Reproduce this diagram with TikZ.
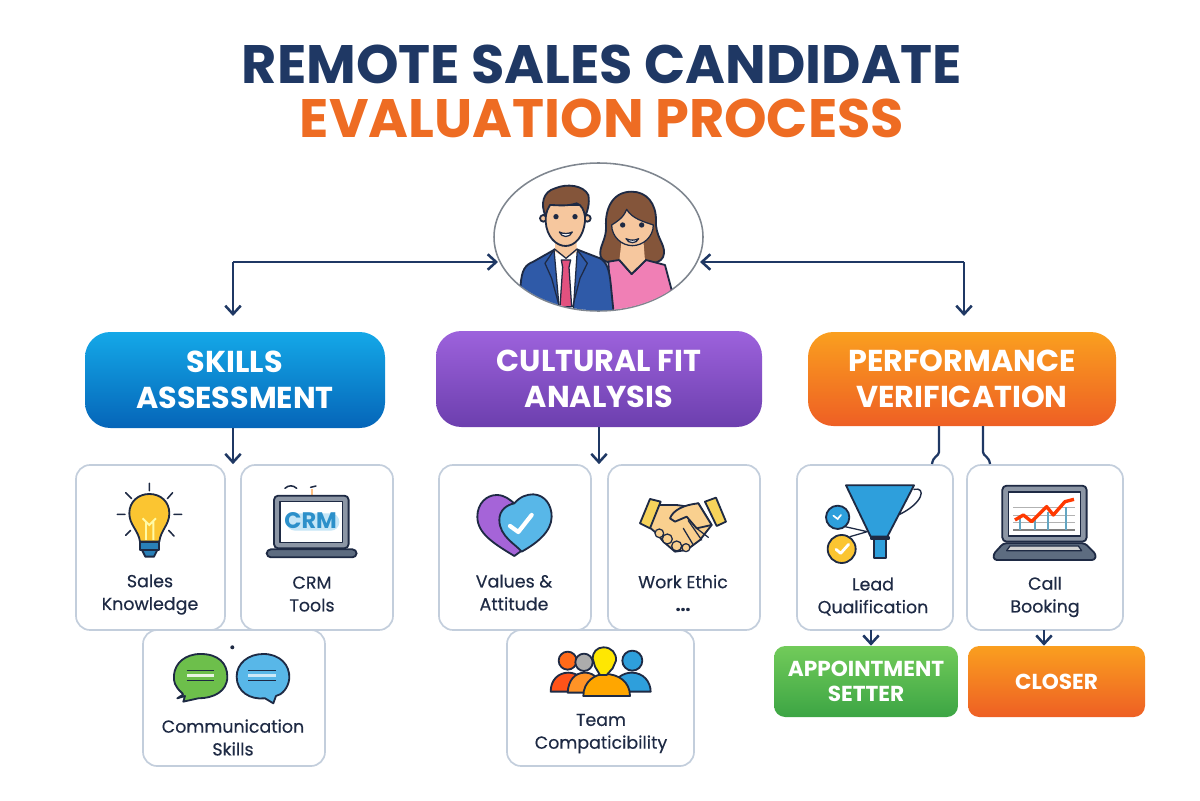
\documentclass[tikz,border=0pt]{standalone}
\usepackage{fontspec}
\setmainfont{Poppins}
\newfontfamily\labelfont{Poppins}[FakeBold=0.35]
\usepackage{xcolor}
\usetikzlibrary{calc, positioning, arrows.meta, shapes.geometric}

\definecolor{navy}{HTML}{1F3864}
\definecolor{inkdark}{HTML}{1E2A44}
\definecolor{titleorange}{HTML}{EE6C23}
\definecolor{cardline}{HTML}{C3CEDC}
\definecolor{skin}{HTML}{F6C79E}
\definecolor{hairbrown}{HTML}{84553A}
\definecolor{skillstop}{HTML}{14A8E8}
\definecolor{skillsbot}{HTML}{0565B8}
\definecolor{culturetop}{HTML}{9D62DC}
\definecolor{culturebot}{HTML}{6C3FAE}
\definecolor{perftop}{HTML}{FA9F1F}
\definecolor{perfbot}{HTML}{EE5F24}
\definecolor{settertop}{HTML}{72CB5A}
\definecolor{setterbot}{HTML}{3CA544}
\definecolor{suitblue}{HTML}{2F5AA8}
\definecolor{pinktop}{HTML}{F07FB5}
\definecolor{tiepink}{HTML}{E2517F}
\definecolor{iconblue}{HTML}{58B7E8}
\definecolor{funnelblue}{HTML}{2E9FDC}
\definecolor{icongreen}{HTML}{6DBF4B}
\definecolor{iconpurple}{HTML}{A564D8}
\definecolor{bulbyellow}{HTML}{FBC531}
\definecolor{handtan}{HTML}{F9D08F}
\definecolor{cuffyellow}{HTML}{F6D35B}
\definecolor{framegray}{HTML}{8C96A5}
\definecolor{basegray}{HTML}{5D6C80}

\tikzset{
    px/.style 2 args={minimum width=#1*0.025cm, minimum height=#2*0.025cm},
    zoomed/.style 2 args={shift={(#1,#2)}, scale=0.3333},
    link/.style={draw=navy, line width=1.8pt, -{Straight Barb[length=6pt,width=11pt,line width=1.8pt]}},
    linkplain/.style={draw=navy, line width=1.6pt},
    titletext/.style={inner sep=0pt, font=\bfseries\fontsize{38.5}{40}\selectfont},
    headbox/.style={rounded corners=18pt, inner sep=0pt, text=white, align=center,
        font=\bfseries\fontsize{21.5}{25.5}\selectfont},
    rolebox/.style={rounded corners=8pt, inner sep=0pt, text=white, align=center,
        font=\bfseries\fontsize{15.4}{17.5}\selectfont},
    card/.style={draw=cardline, fill=white, line width=1.2pt, rounded corners=10pt, inner sep=0pt},
    cardtext/.style={text=inkdark, align=center, inner sep=0pt,
        font=\labelfont\fontsize{12.4}{16.2}\selectfont},
    outlined/.style={draw=inkdark, line width=1.3pt, line join=round, line cap=round},
    thinline/.style={draw=inkdark, line width=0.9pt, line join=round, line cap=round}
}

\begin{document}
\begin{tikzpicture}[x=0.025cm, y=-0.025cm]
    \useasboundingbox (0,0) rectangle (1200,800);

    % title
    \node[titletext, text=navy] (titleone) at (602,64) {REMOTE SALES CANDIDATE};
    \node[titletext, text=titleorange] (titletwo) at (602,118) {EVALUATION PROCESS};

    % the three main boxes
    \node[headbox, px={300}{96}, top color=skillstop, bottom color=skillsbot] (skills) at (235,380) {SKILLS\\ASSESSMENT};
    \node[headbox, px={326}{96}, top color=culturetop, bottom color=culturebot] (cultural) at (599,379) {CULTURAL FIT\\ANALYSIS};
    \node[headbox, px={308}{94}, top color=perftop, bottom color=perfbot] (performance) at (962,379) {PERFORMANCE\\VERIFICATION};

    % cards
    \node[card, px={149}{165}] (sales) at (150.5,547.5) {};
    \node[card, px={152}{165}] (crm) at (317,547.5) {};
    \node[card, px={182}{136}] (comm) at (234,698) {};
    \node[card, px={152}{165}] (values) at (515,547.5) {};
    \node[card, px={152}{165}] (work) at (684,547.5) {};
    \node[card, px={187}{136}] (team) at (600.5,698) {};
    \node[card, px={156}{165}] (lead) at (875,547.5) {};
    \node[card, px={156}{165}] (call) at (1045,547.5) {};

    % card labels
    \node[cardtext] (salestext) at (150,594.5) {Sales\\Knowledge};
    \node[cardtext] (crmtext) at (312,594) {CRM\\Tools};
    \node[cardtext] (commtext) at (233,737.5) {Communication\\Skills};
    \node[cardtext] (valuestext) at (514,592.5) {Values \&\\Attitude};
    \node[cardtext] (worktext) at (683,593) {Work Ethic\\\textbf{...}};
    \node[cardtext] (teamtext) at (601,733.5) {Team\\Compaticibility};
    \node[cardtext] (leadtext) at (873,596.5) {Lead\\Qualification};
    \node[cardtext] (calltext) at (1045,597) {Call\\Booking};

    % role boxes
    \node[rolebox, px={184}{71}, top color=settertop, bottom color=setterbot] (setter) at (866,681.5) {APPOINTMENT\\SETTER};
    \node[rolebox, px={177}{71}, top color=perftop, bottom color=perfbot] (closer) at (1056.5,681.5) {CLOSER};

    % the people in the ellipse
    \node[draw=black!35!cardline, fill=white, ellipse, line width=1.1pt, inner sep=0pt, px={209}{148}] (people) at (598.5,237) {};
    \begin{scope}[zoomed={480}{150}]
        \clip (356,260) ellipse [x radius=313, y radius=221];
        % woman
        \draw[outlined, fill=hairbrown] (455,125) .. controls (395,125) and (375,180) .. (378,230) .. controls (380,270) and (355,290) .. (362,320) .. controls (370,340) and (410,345) .. (455,340) .. controls (500,345) and (550,345) .. (552,310) .. controls (555,280) and (525,260) .. (528,210) .. controls (528,160) and (500,125) .. (455,125) -- cycle;
        \draw[outlined, fill=pinktop] (385,335) -- (418,330) -- (455,372) -- (498,330) -- (555,345) -- (575,420) -- (500,500) -- (395,500) -- cycle;
        \fill[skin] (425,270) -- (490,270) -- (495,332) -- (455,370) -- (418,332) -- cycle;
        \draw[outlined] (418,330) -- (455,372) -- (498,330);
        \draw[thinline, fill=skin] (395,225) .. controls (410,215) and (430,205) .. (440,178) .. controls (455,205) and (490,215) .. (520,225) .. controls (520,260) and (490,287) .. (457,287) .. controls (425,287) and (395,260) .. (395,225) -- cycle;
        \fill[inkdark] (428,225) circle (8) (485,225) circle (8);
        \draw[thinline, fill=white] (438,266) .. controls (450,272) and (465,272) .. (476,266) .. controls (470,282) and (445,282) .. (438,266) -- cycle;
        % man
        \draw[outlined, fill=suitblue] (122,405) .. controls (125,360) and (135,345) .. (160,335) -- (225,298) -- (290,298) -- (360,325) .. controls (380,335) and (388,360) .. (392,400) -- (402,500) -- (110,500) -- cycle;
        \draw[thinline, fill=white] (222,298) -- (292,298) -- (280,480) -- (238,480) -- cycle;
        \fill[skin] (225,265) -- (290,265) -- (290,305) -- (258,325) -- (225,305) -- cycle;
        \draw[thinline] (225,298) -- (258,325) -- (290,298);
        \draw[thinline, fill=tiepink] (244,330) -- (272,330) -- (267,352) -- (275,470) -- (240,470) -- (248,352) -- cycle;
        \draw[thinline] (222,300) -- (195,340) -- (215,385) -- (238,470);
        \draw[thinline] (292,300) -- (322,340) -- (300,385) -- (278,470);
        \draw[outlined, fill=skin] (190,205) circle (10) (322,205) circle (10);
        \draw[outlined, fill=skin] (197,165) -- (315,165) -- (315,215) .. controls (310,260) and (285,288) .. (257,288) .. controls (228,288) and (200,260) .. (197,215) -- cycle;
        \draw[outlined, fill=hairbrown] (197,200) .. controls (180,160) and (190,125) .. (225,115) .. controls (260,100) and (310,105) .. (325,135) .. controls (330,160) and (322,185) .. (315,200) .. controls (312,180) and (305,165) .. (290,160) .. controls (260,170) and (230,165) .. (210,165) .. controls (203,175) and (200,185) .. (197,200) -- cycle;
        \fill[inkdark] (228,200) circle (8) (285,200) circle (8);
        \draw[thinline, fill=white] (238,246) .. controls (250,252) and (265,252) .. (277,246) .. controls (270,264) and (245,264) .. (238,246) -- cycle;
    \end{scope}

    % connectors
    \coordinate (leftturn) at (233,262);
    \coordinate (rightturn) at (964,262);
    \coordinate (skillsin) at (233,316);
    \coordinate (perfin) at (964,316);
    \coordinate (peopleleft) at (498,262);
    \coordinate (peopleright) at (700,262);
    \draw[link] (leftturn) -- (peopleleft);
    \draw[link] (leftturn) -- (skillsin);
    \draw[link] (rightturn) -- (peopleright);
    \draw[link] (rightturn) -- (perfin);
    \draw[link] (skills.south -| skillsin) -- (sales.north -| skillsin);
    \draw[link] (cultural.south) -- (cultural.south |- values.north);
    \coordinate (leadout) at (939,426);
    \coordinate (callout) at (983,426);
    \coordinate (leadend) at (932,464);
    \coordinate (callend) at (990,464);
    \draw[linkplain] (leadout) -- (939,452) .. controls (939,456) and (933,456) .. (leadend);
    \draw[linkplain] (callout) -- (983,452) .. controls (983,456) and (989,456) .. (callend);
    \coordinate (setterin) at (871,630);
    \coordinate (closerin) at (1044,630);
    \draw[link] (setterin) -- (setterin |- setter.north);
    \draw[link] (closerin) -- (closerin |- closer.north);

    % lightbulb
    \begin{scope}[zoomed={70}{450}]
        \draw[outlined, fill=bulbyellow] (210,275) .. controls (205,240) and (178,225) .. (178,190) .. controls (178,155) and (205,132) .. (238,132) .. controls (272,132) and (298,155) .. (298,190) .. controls (298,225) and (272,240) .. (268,275) -- cycle;
        \draw[draw=yellow!35!white, line width=1.4pt] (228,270) -- (228,215) (250,270) -- (250,215) (218,205) -- (238,225) -- (258,205);
        \draw[outlined, fill=funnelblue!70!navy] (210,275) rectangle (268,300);
        \draw[outlined, fill=funnelblue!70!navy] (216,300) -- (262,300) -- (252,320) -- (226,320) -- cycle;
        \draw[thinline, line width=1.1pt] (238,100) -- (238,122) (167,128) -- (185,146) (308,128) -- (292,146) (142,193) -- (165,193) (312,193) -- (335,193) (167,256) -- (182,241) (312,258) -- (296,241);
    \end{scope}

    % crm laptop
    \begin{scope}[zoomed={70}{450}]
        \draw[thinline, line width=1.1pt] (645,115) .. controls (655,105) and (670,105) .. (680,115);
        \draw[thinline, line width=1.1pt] (722,112) -- (738,108);
        \draw[draw=orange!50!white, line width=1.2pt] (726,118) -- (726,150);
        \draw[outlined, fill=framegray, rounded corners=3pt] (612,137) rectangle (836,295);
        \draw[thinline, fill=white] (630,155) rectangle (818,278);
        \fill[iconblue!35!white, rounded corners=6pt] (650,190) rectangle (808,242);
        \node[inner sep=0pt, text=funnelblue!85!navy, font=\bfseries\fontsize{16}{16}\selectfont] (crmmark) at (722,213) {CRM};
        \draw[outlined, fill=basegray, rounded corners=3pt] (590,298) rectangle (860,322);
    \end{scope}

    % speech bubbles
    \begin{scope}[zoomed={70}{450}]
        \draw[outlined, fill=icongreen] (392,612) .. controls (445,612) and (472,640) .. (472,680) .. controls (472,725) and (430,745) .. (385,745) -- (340,755) -- (345,738) -- (322,745) .. controls (335,735) and (345,735) .. (335,728) .. controls (315,710) and (310,695) .. (312,675) .. controls (315,640) and (345,612) .. (392,612) -- cycle;
        \draw[draw=inkdark, line width=1pt] (350,662) -- (432,662);
        \fill[white!85!icongreen] (350,672) rectangle (432,682);
        \draw[draw=inkdark, line width=1pt] (350,692) -- (432,692);
        \draw[outlined, fill=iconblue] (580,612) .. controls (630,612) and (660,645) .. (658,685) .. controls (655,715) and (635,735) .. (618,738) -- (610,760) -- (585,745) .. controls (540,750) and (500,725) .. (500,680) .. controls (500,640) and (535,612) .. (580,612) -- cycle;
        \draw[draw=inkdark, line width=1pt] (535,662) -- (618,662);
        \fill[white!70!iconblue] (535,672) rectangle (618,682);
        \draw[draw=inkdark, line width=1pt] (535,692) -- (618,692);
        \fill[inkdark] (487,592) circle (6);
    \end{scope}

    % heart
    \begin{scope}[zoomed={430}{450}]
        \draw[outlined, fill=iconpurple] (253,318) .. controls (190,280) and (142,250) .. (142,200) .. controls (142,160) and (170,135) .. (200,135) .. controls (225,135) and (240,150) .. (253,160) -- (275,302) -- cycle;
        \draw[outlined, fill=iconblue] (253,160) .. controls (270,140) and (290,133) .. (310,133) .. controls (345,135) and (365,165) .. (365,200) .. controls (365,245) and (320,280) .. (275,305) .. controls (260,285) and (208,260) .. (208,210) .. controls (208,180) and (230,165) .. (253,160) -- cycle;
        \draw[draw=white, line width=3pt, line cap=round, line join=round] (240,228) -- (265,246) -- (305,195);
    \end{scope}

    % handshake
    \begin{scope}[zoomed={430}{450}]
        \draw[outlined, fill=handtan] (672,165) -- (740,165) -- (775,170) -- (805,160) -- (845,225) -- (810,270) -- (770,300) -- (735,305) -- (700,275) -- (680,250) -- (650,225) -- cycle;
        \draw[outlined, fill=handtan] (720,205) .. controls (730,180) and (760,165) .. (805,160) -- (845,225) -- (800,235) -- (770,200) -- (735,215) -- cycle;
        \draw[thinline] (800,235) -- (835,262) (775,212) -- (815,270) (760,235) -- (790,285);
        \draw[thinline, fill=handtan] (688,250) circle (13) (712,267) circle (15) (740,288) circle (15) (768,293) circle (12);
        \draw[outlined, fill=cuffyellow] (660,147) -- (692,155) -- (660,235) -- (630,220) -- cycle;
        \draw[outlined, fill=cuffyellow] (858,143) -- (888,215) -- (860,228) -- (825,155) -- cycle;
    \end{scope}

    % team
    \begin{scope}[zoomed={430}{450}]
        \draw[outlined, fill=red!50!orange!90!white] (362,725) .. controls (362,690) and (385,668) .. (415,668) .. controls (445,668) and (465,690) .. (470,725) -- cycle;
        \draw[outlined, fill=orange!85!white] (413,728) .. controls (415,690) and (435,668) .. (465,668) .. controls (495,668) and (510,690) .. (515,728) -- cycle;
        \draw[outlined, fill=funnelblue] (540,725) .. controls (550,685) and (580,668) .. (605,668) .. controls (640,668) and (662,695) .. (662,725) -- cycle;
        \draw[outlined, fill=orange!70!red!90!white] (413,632) circle (27);
        \draw[outlined, fill=gray!65!white] (462,637) circle (26);
        \draw[outlined, fill=funnelblue] (607,632) circle (30);
        \draw[outlined, fill=orange!70!yellow] (460,738) .. controls (460,695) and (495,672) .. (525,672) .. controls (565,672) and (600,695) .. (600,738) -- cycle;
        \draw[outlined, fill=yellow!90!orange] (520,592) .. controls (545,592) and (560,610) .. (558,632) -- (548,655) -- (530,675) -- (510,675) -- (495,650) -- (488,625) .. controls (488,608) and (500,592) .. (520,592) -- cycle;
    \end{scope}

    % funnel
    \begin{scope}[zoomed={770}{420}]
        \draw[outlined, line width=1pt] (432,208) .. controls (470,200) and (460,250) .. (385,285);
        \draw[thinline] (225,320) -- (292,335) (240,350) -- (292,335);
        \draw[outlined, fill=funnelblue] (228,196) -- (432,196) -- (352,350) -- (302,350) -- cycle;
        \draw[outlined, fill=funnelblue] (313,358) rectangle (347,414);
        \draw[outlined, fill=funnelblue] (302,350) rectangle (357,358);
        \draw[outlined, fill=funnelblue] (203,292) circle (35);
        \draw[draw=white, line width=1.2pt, line cap=round] (190,287) -- (203,297) -- (213,285);
        \draw[outlined, fill=bulbyellow] (215,387) circle (42);
        \draw[draw=white, line width=2pt, line cap=round, line join=round] (198,388) -- (212,400) -- (236,373);
    \end{scope}

    % chart laptop
    \begin{scope}[zoomed={770}{420}]
        \draw[outlined, fill=framegray, rounded corners=3pt] (697,197) rectangle (950,365);
        \draw[thinline, fill=white] (716,216) rectangle (932,348);
        \draw[draw=gray!60!white, line width=0.5pt] (730,262) -- (915,262) (730,285) -- (915,285) (730,308) -- (915,308);
        \draw[draw=gray, line width=0.8pt] (730,330) -- (915,330);
        \draw[draw=cyan!50!gray, line width=1.2pt] (750,330) -- (750,295) (795,330) -- (795,300) (835,330) -- (835,275) (888,330) -- (888,260);
        \draw[draw=red!55!orange, line width=2.4pt, line join=round] (735,300) -- (760,285) -- (785,305) -- (830,260) -- (850,285) -- (885,245) -- (912,238);
        \draw[outlined, fill=basegray, rounded corners=2pt] (700,370) -- (945,370) -- (978,403) -- (975,420) -- (672,420) -- (670,403) -- cycle;
        \draw[thinline, fill=gray!35!white] (720,378) -- (925,378) -- (935,392) -- (710,392) -- cycle;
    \end{scope}
\end{tikzpicture}
\end{document}
